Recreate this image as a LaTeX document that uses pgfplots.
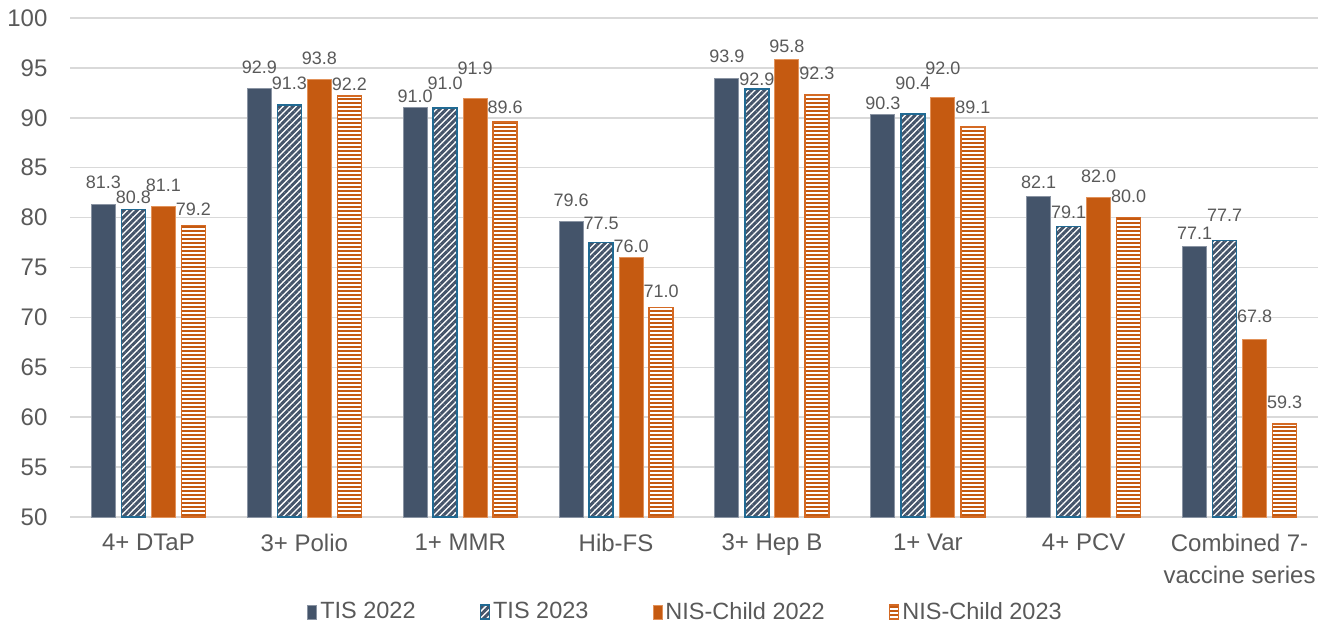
\documentclass[border=0pt]{standalone}
\usepackage{pgfplots}
\pgfplotsset{compat=1.18}
\usepackage{pgfplotstable}
\usetikzlibrary{patterns.meta}
\usepackage{fontspec}
\setmainfont{Liberation Sans}
\definecolor{tisdark}{HTML}{44546A}
\definecolor{tisborder}{HTML}{8A94A3}
\definecolor{tisblue}{HTML}{216A93}
\definecolor{nisor}{HTML}{C55A11}
\definecolor{nisborder}{HTML}{E2925A}
\definecolor{nisline}{HTML}{D46A24}
\definecolor{gridc}{HTML}{D9D9D9}
\definecolor{txt}{HTML}{595959}

\pgfplotstableread{
x y off
0 81.3 11
1 92.9 11
2 91.0 5.9
3 79.6 10.8
4 93.9 11.1
5 90.3 6
6 82.1 7
7 77.1 6.6
}\tisA
\pgfplotstableread{
x y off
0 80.8 6
1 91.3 10.7
2 91.0 12.2
3 77.5 9.6
4 92.9 4.8
5 90.4 15.2
6 79.1 7
7 77.7 12.5
}\tisB
\pgfplotstableread{
x y off
0 81.1 10.8
1 93.8 10.8
2 91.9 15.2
3 76.0 5.7
4 95.8 7
5 92.0 14.7
6 82.0 10.5
7 67.8 11.3
}\nisA
\pgfplotstableread{
x y off
0 79.2 8
1 92.2 5.9
2 89.6 7
3 71.0 8.2
4 92.3 10.7
5 89.1 9.6
6 80.0 10.5
7 59.3 11
}\nisB

\begin{document}
\begin{tikzpicture}
\begin{axis}[
  at={(0,0)}, anchor=south west,
  scale only axis,
  width=623.5pt, height=249.5pt,
  ybar=3pt, bar width=12pt,
  xmin=-0.5, xmax=7.5,
  ymin=50, ymax=100,
  ytick={50,55,...,100},
  xtick={0,...,7},
  xticklabels={4+ DTaP,3+ Polio,1+ MMR,Hib-FS,3+ Hep B,1+ Var,4+ PCV,{Combined 7-\\vaccine series}},
  xticklabel style={align=center, font=\fontsize{12}{16}\selectfont, text=txt, yshift=-5pt},
  yticklabel style={font=\fontsize{12}{13}\selectfont, text=txt, xshift=-8pt},
  yticklabel={\pgfmathprintnumber[fixed,precision=0]{\tick}},
  major tick length=0pt,
  axis x line*=bottom, axis y line*=left,
  y axis line style={draw=none},
  x axis line style={draw=gridc, line width=0.75pt},
  ymajorgrids, grid style={draw=gridc, line width=0.75pt},
  /pgf/number format/assume math mode=true,
  nodes near coords={\pgfmathprintnumber[fixed,fixed zerofill,precision=1]{\pgfplotspointmeta}},
  visualization depends on={\thisrow{off} \as \myoff},
  every node near coord/.append style={font=\fontsize{9}{10}\selectfont, text=txt, anchor=center, yshift=\myoff pt},
  legend columns=4,
  legend style={draw=none, fill=none, at={(0.5,0)}, anchor=center, yshift=-47.5pt, xshift=-4pt,
    font=\fontsize{11.75}{13}\selectfont, text=txt,
    /tikz/every even column/.append style={column sep=30.5pt},
    nodes={inner sep=1.5pt}},
  legend image code/.code={\draw[#1] (0pt,-3.5pt) rectangle (4.5pt,3.5pt);},
]
\addplot[fill=tisdark, draw=tisborder, line width=0.5pt] table[x=x,y=y] {\tisA};
\addplot[fill=white, draw=tisblue, line width=0.75pt, postaction={pattern={Lines[angle=45,distance=2.3pt,line width=1.5pt]}, pattern color=tisdark}] table[x=x,y=y] {\tisB};
\addplot[fill=nisor, draw=nisborder, line width=0.5pt] table[x=x,y=y] {\nisA};
\addplot[fill=white, draw=nisline, line width=0.75pt, postaction={pattern={Lines[angle=0,distance=2pt,line width=1pt]}, pattern color=nisor}] table[x=x,y=y] {\nisB};
\legend{TIS 2022, TIS 2023, NIS-Child 2022, NIS-Child 2023}
\end{axis}
\pgfresetboundingbox
\path (-35.25pt,-55pt) rectangle (629.75pt,258.5pt);
\end{tikzpicture}
\end{document}
